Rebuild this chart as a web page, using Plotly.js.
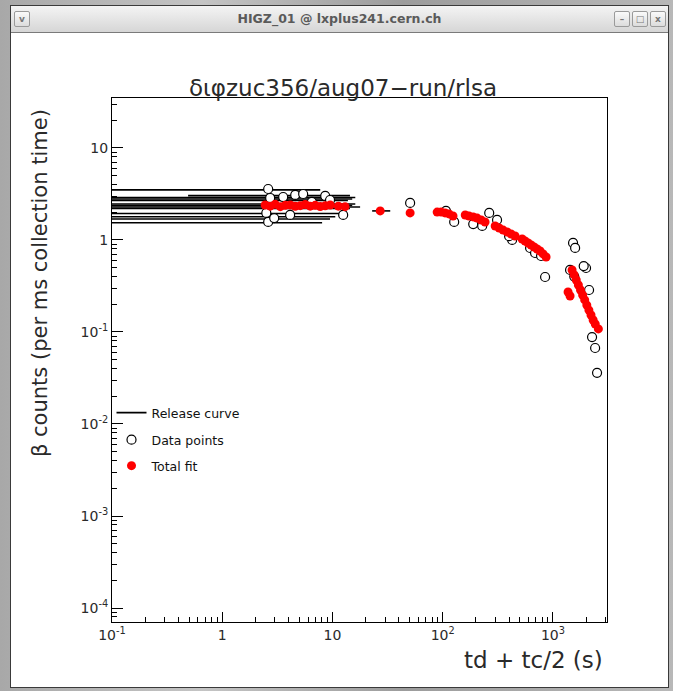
<!DOCTYPE html>
<html>
<head>
<meta charset="utf-8">
<script src="https://cdn.plot.ly/plotly-3.0.1.min.js"></script>
<style>
  html, body { margin:0; padding:0; }
  body { width:673px; height:691px; overflow:hidden; position:relative;
         background: linear-gradient(90deg, #a8a8a8, #c4c4c4 30%, #9c9c9c 60%, #b8b8b8); }
  #win { position:absolute; left:10px; top:5px; width:659px; height:683px; background:#fff;
         border:1px solid #3a3a3a; box-sizing:border-box; }
  #bar { position:absolute; left:0; top:0; right:0; height:26px;
         background: linear-gradient(#f4f4f4, #d6d6d6); border-bottom:1px solid #7a7a7a;
         font-family:"DejaVu Sans", sans-serif; font-size:12.5px; font-weight:bold; color:#5a5a5a;
         text-align:center; line-height:26px; }
  .btn { position:absolute; top:5px; width:14px; height:14px; border:1px solid #9a9a9a;
         background:linear-gradient(#fafafa,#dcdcdc); border-radius:2px; font-size:9px; line-height:14px;
         color:#777; text-align:center; font-weight:bold; }
  #plot { position:absolute; left:0; top:0; width:673px; height:691px; }
</style>
</head>
<body>
<div id="win">
  <div id="bar">HIGZ_01 @ lxplus241.cern.ch
    <div class="btn" style="left:3px;">v</div>
    <div class="btn" style="left:603px;">–</div>
    <div class="btn" style="left:621px;">□</div>
    <div class="btn" style="left:639px;">x</div>
  </div>
</div>
<div id="plot"></div>
<script>
// Release curve segments (horizontal lines): level, start, end
const releaseLevel = [3.50, 3.03, 2.90, 2.79, 2.69, 2.46, 2.37, 2.28, 2.20, 1.94, 1.79, 1.69, 1.54, 2.07];
const releaseStart = [0.05, 0.49, 0.05, 0.05, 0.05, 0.05, 0.05, 0.05, 0.05, 0.05, 0.05, 0.05, 0.05, 22.9];
const releaseEnd   = [7.74, 14.4, 16.1, 15.1, 13.8, 16.1, 15.1, 17.8, 14.4, 13.0, 10.6, 9.5, 8.05, 33.4];

// Data points (open circles)
const dataX = [2.61, 2.51, 2.61, 2.96, 4.13, 4.59, 5.42, 8.59, 12.5, 2.72, 3.57, 6.5, 9.5,
               50.6, 107, 127, 264, 311, 189, 228, 426, 400, 620, 688, 780, 848,
               1521, 1588, 1429, 1995, 2125, 2262, 2411, 2511, 1900, 1560];
const dataY = [3.58, 1.97, 1.57, 1.73, 1.87, 3.09, 3.16, 3.01, 1.87, 2.86, 2.93, 2.60, 2.72,
               2.53, 2.07, 1.57, 1.97, 1.65, 1.49, 1.42, 1.00, 1.10, 0.818, 0.722, 0.67, 0.396,
               0.928, 0.819, 0.472, 0.496, 0.286, 0.088, 0.067, 0.036, 0.52, 0.40];

// Total fit (red points)
const fitX = [2.45, 2.72, 3.02, 3.36, 3.73, 4.14, 4.59, 5.10, 5.66, 6.28, 6.97, 7.74, 8.59, 9.53, 11.3, 13.0,
              27.1, 50.6,
              89, 96.7, 105, 114, 124,
              160, 173, 189, 205, 223, 242,
              299, 325, 353, 384, 417, 453,
              525, 558, 595, 633, 674, 718, 764, 813, 866,
              1370, 1429,
              1490, 1557, 1627, 1700, 1777, 1857, 1940, 2027, 2118, 2213, 2313, 2417, 2580];
const fitY = [2.40, 2.33, 2.44, 2.30, 2.38, 2.40, 2.32, 2.36, 2.43, 2.33, 2.38, 2.31, 2.35, 2.40, 2.33, 2.30,
              2.07, 1.97,
              2.01, 2.01, 1.97, 1.92, 1.82,
              1.87, 1.82, 1.78, 1.73, 1.65, 1.57,
              1.42, 1.35, 1.28, 1.22, 1.16, 1.105,
              1.025, 0.975, 0.928, 0.882, 0.839, 0.798, 0.759, 0.705, 0.653,
              0.272, 0.246,
              0.472, 0.417, 0.367, 0.324, 0.286, 0.252, 0.223, 0.196, 0.173, 0.153, 0.135, 0.122, 0.108];

// Axis ticks
const xTickVals = [0.1, 1, 10, 100, 1000];
const xTickText = ['10<sup>-1</sup>', '1', '10', '10<sup>2</sup>', '10<sup>3</sup>'];
const yTickVals = [0.0001, 0.001, 0.01, 0.1, 1, 10];
const yTickText = ['10<sup>-4</sup>', '10<sup>-3</sup>', '10<sup>-2</sup>', '10<sup>-1</sup>', '1', '10'];

function minorVals(lo, hi) {
  const out = [];
  for (let e = lo; e <= hi; e++) for (let m = 2; m <= 9; m++) out.push(m * Math.pow(10, e));
  return out;
}

const relX = [], relY = [];
for (let i = 0; i < releaseLevel.length; i++) {
  relX.push(releaseStart[i], releaseEnd[i], null);
  relY.push(releaseLevel[i], releaseLevel[i], null);
}

const FONT = 'DejaVu Sans, sans-serif';
const INK = '#2a2a2a';

const traces = [
  { x: relX, y: relY, type: 'scatter', mode: 'lines', name: 'Release curve',
    line: { color: '#000', width: 1.6 }, legend: 'legend', connectgaps: false },
  { x: dataX, y: dataY, type: 'scatter', mode: 'markers', name: 'Data points',
    marker: { symbol: 'circle', size: 9, color: '#fff', line: { color: '#000', width: 1.2 } },
    legend: 'legend2' },
  { x: fitX, y: fitY, type: 'scatter', mode: 'markers', name: 'Total fit',
    marker: { symbol: 'circle', size: 9, color: '#ff0000', line: { width: 0 } },
    legend: 'legend3' }
];

const legBase = { x: -0.001, xanchor: 'left', yanchor: 'middle', bgcolor: 'rgba(0,0,0,0)',
                  borderwidth: 0, font: { family: FONT, size: 12.5, color: '#111' } };

const layout = {
  width: 673, height: 691,
  margin: { l: 112, r: 66, t: 98, b: 69 },
  paper_bgcolor: 'rgba(0,0,0,0)',
  plot_bgcolor: '#fff',
  showlegend: true,
  title: { text: 'διφzuc356/aug07−run/rlsa', x: 343 / 673, xref: 'container', xanchor: 'center',
           y: 1 - 88 / 691, yref: 'container', yanchor: 'middle',
           font: { family: FONT, size: 23, color: INK } },
  xaxis: { type: 'log', range: [-1, 3.49], showgrid: false, zeroline: false,
           showline: true, linecolor: '#000', linewidth: 1, mirror: true,
           ticks: 'inside', ticklen: 10, tickcolor: '#000', tickwidth: 1,
           tickmode: 'array', tickvals: xTickVals, ticktext: xTickText,
           minor: { tickmode: 'array', tickvals: minorVals(-1, 3), ticks: 'inside', ticklen: 5, tickcolor: '#000', showgrid: false },
           tickfont: { family: FONT, size: 14, color: INK } },
  yaxis: { type: 'log', range: [-4.152, 1.543], showgrid: false, zeroline: false,
           showline: true, linecolor: '#000', linewidth: 1, mirror: true,
           ticks: 'inside', ticklen: 11, tickcolor: '#000', tickwidth: 1,
           tickmode: 'array', tickvals: yTickVals, ticktext: yTickText,
           minor: { tickmode: 'array', tickvals: minorVals(-5, 1), ticks: 'inside', ticklen: 5, tickcolor: '#000', showgrid: false },
           tickfont: { family: FONT, size: 14, color: INK } },
  legend: Object.assign({}, legBase, { y: (622 - 413) / 524 }),
  legend2: Object.assign({}, legBase, { y: (622 - 440) / 524 }),
  legend3: Object.assign({}, legBase, { y: (622 - 466) / 524 }),
  annotations: [
    { text: 'td + tc/2 (s)', xref: 'paper', yref: 'paper', x: 0.996, y: (622 - 660) / 524,
      xanchor: 'right', yanchor: 'middle', showarrow: false,
      font: { family: FONT, size: 23, color: INK } },
    { text: 'β counts (per ms collection time)', xref: 'paper', yref: 'paper',
      x: (40 - 112) / 495, y: (622 - 283) / 524, xanchor: 'center', yanchor: 'middle',
      textangle: -90, showarrow: false, font: { family: FONT, size: 21, color: INK } }
  ]
};

Plotly.newPlot('plot', traces, layout, { displayModeBar: false, staticPlot: true });
</script>
</body>
</html>
